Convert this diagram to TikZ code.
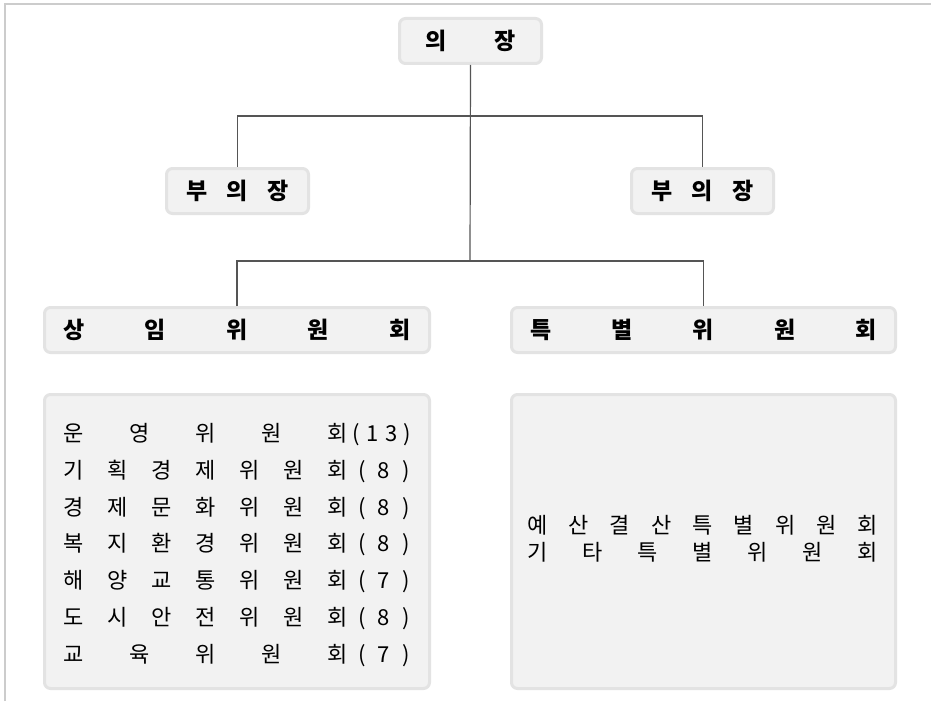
\documentclass[tikz,border=0pt]{standalone}
\usepackage{fontspec}
\setmainfont{Noto Sans CJK KR}
\definecolor{boxfill}{HTML}{F2F2F2}
\definecolor{boxline}{HTML}{E3E3E3}
\definecolor{lineclr}{HTML}{555555}
\definecolor{frameclr}{HTML}{CCCCCC}
\newcommand\spreadtxt[2]{\makebox[#1][s]{#2}}
\begin{document}
\begin{tikzpicture}[x=1pt,y=-1pt,
  box/.style={draw=boxline, fill=boxfill, line width=3pt, rounded corners=6pt, inner sep=0pt},
  hd/.style={box, font=\fontsize{23}{27}\selectfont\bfseries, text=black},
  lst/.style={anchor=base west, inner sep=0pt, font=\fontsize{22}{26}\selectfont, text=black},
  conn/.style={draw=lineclr, line width=1.2pt}]
\useasboundingbox (0,0) rectangle (931,701);
\fill[white] (0,0) rectangle (931,701);
% frame
\draw[frameclr, line width=1.5pt] (5,701) -- (5,4) -- (931,4);

% boxes
\node[hd, minimum width=142pt, minimum height=45pt] (chair) at (470.5,41) {\spreadtxt{91pt}{의\hfill 장}};
\node[hd, minimum width=142pt, minimum height=45pt] (vl) at (237.5,191) {\spreadtxt{103pt}{부\hfill 의\hfill 장}};
\node[hd, minimum width=142pt, minimum height=45pt] (vr) at (702.5,191) {\spreadtxt{103pt}{부\hfill 의\hfill 장}};
\node[hd, minimum width=385pt, minimum height=45pt] (sc) at (237,330) {\spreadtxt{347pt}{상\hfill 임\hfill 위\hfill 원\hfill 회}};
\node[hd, minimum width=384pt, minimum height=45pt] (spc) at (703.5,330) {\spreadtxt{347pt}{특\hfill 별\hfill 위\hfill 원\hfill 회}};
\node[box, minimum width=385pt, minimum height=294pt] (scl) at (237,541.5) {};
\node[box, minimum width=384pt, minimum height=294pt] (spl) at (703.5,541.5) {};

% connectors
\coordinate (ub) at (470,116);
\coordinate (lb) at (470,261);
\draw[conn] (chair.south) -- (lb);
\draw[conn] (vl.north) |- (ub) -| (vr.north);
\draw[conn] (sc.north) |- (lb) -| (spc.north);

% standing committees list
\node[lst] (r1) at (63,441.8) {\spreadtxt{285pt}{운\hfill 영\hfill 위\hfill 원\hfill 회}\hspace{4.4pt}\spreadtxt{58.7pt}{(\hfill 1\hfill 3\hfill)}};
\node[lst] (r2) at (63,478.5) {\spreadtxt{285pt}{기\hfill 획\hfill 경\hfill 제\hfill 위\hfill 원\hfill 회}\hspace{10.4pt}\spreadtxt{51pt}{(\hfill 8\hfill)}};
\node[lst] (r3) at (63,515.2) {\spreadtxt{285pt}{경\hfill 제\hfill 문\hfill 화\hfill 위\hfill 원\hfill 회}\hspace{10.4pt}\spreadtxt{51pt}{(\hfill 8\hfill)}};
\node[lst] (r4) at (63,551.9) {\spreadtxt{285pt}{복\hfill 지\hfill 환\hfill 경\hfill 위\hfill 원\hfill 회}\hspace{10.4pt}\spreadtxt{51pt}{(\hfill 8\hfill)}};
\node[lst] (r5) at (63,588.6) {\spreadtxt{285pt}{해\hfill 양\hfill 교\hfill 통\hfill 위\hfill 원\hfill 회}\hspace{10.4pt}\spreadtxt{51pt}{(\hfill 7\hfill)}};
\node[lst] (r6) at (63,625.3) {\spreadtxt{285pt}{도\hfill 시\hfill 안\hfill 전\hfill 위\hfill 원\hfill 회}\hspace{10.4pt}\spreadtxt{51pt}{(\hfill 8\hfill)}};
\node[lst] (r7) at (63,662.0) {\spreadtxt{285pt}{교\hfill 육\hfill 위\hfill 원\hfill 회}\hspace{10.4pt}\spreadtxt{51pt}{(\hfill 7\hfill)}};

% special committees list
\node[lst] (s1) at (527,533.8) {\spreadtxt{351pt}{예\hfill 산\hfill 결\hfill 산\hfill 특\hfill 별\hfill 위\hfill 원\hfill 회}};
\node[lst] (s2) at (527,560.3) {\spreadtxt{351pt}{기\hfill 타\hfill 특\hfill 별\hfill 위\hfill 원\hfill 회}};
\end{tikzpicture}
\end{document}
